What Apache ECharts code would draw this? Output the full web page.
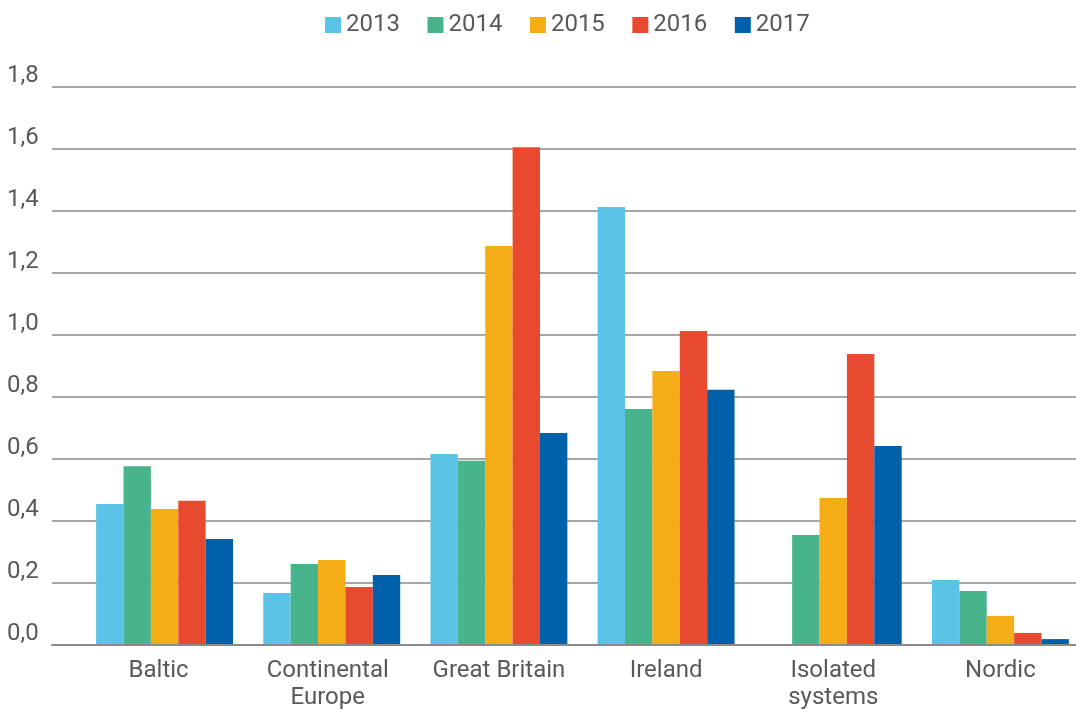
<!DOCTYPE html>
<html>
<head>
<meta charset="utf-8">
<title>Values by synchronous area, 2013–2017</title>
<script src="https://cdn.jsdelivr.net/npm/echarts@6/dist/echarts.min.js"></script>
<style>
  html, body { margin: 0; padding: 0; background: #ffffff; }
  #chart { width: 1076px; height: 709px; }
</style>
</head>
<body>
<div id="chart"></div>
<script>
// Synchronous areas on the category axis
const categories = ['Baltic', 'Continental\nEurope', 'Great Britain', 'Ireland', 'Isolated\nsystems', 'Nordic'];

// Yearly values per area (same order as categories)
const years = ['2013', '2014', '2015', '2016', '2017'];
const values2013 = [0.455, 0.168, 0.616, 1.413, null, 0.210];
const values2014 = [0.577, 0.261, 0.594, 0.761, 0.355, 0.174];
const values2015 = [0.439, 0.274, 1.287, 0.884, 0.474, 0.094];
const values2016 = [0.465, 0.187, 1.606, 1.013, 0.939, 0.039];
const values2017 = [0.342, 0.226, 0.684, 0.823, 0.642, 0.019];

// Value axis range
const yMin = 0;
const yMax = 1.8;
const yStep = 0.2;

const colors = ['#5bc3e5', '#47b48c', '#f4ac17', '#e84a30', '#0060aa'];
const seriesValues = [values2013, values2014, values2015, values2016, values2017];

const textColor = '#595959';
const lineColor = '#8a8a8a';
const font = 'Roboto, "Noto Sans", sans-serif';

// The first two area names sit a little left of their bar groups
const labelNudge = { 'Baltic': 12, 'Continental\nEurope': 8 };
const categoryData = categories.map(name => labelNudge[name]
  ? { value: name, textStyle: { padding: [0, labelNudge[name], 0, 0] } }
  : name);

const chart = echarts.init(document.getElementById('chart'), null, { renderer: 'canvas' });

chart.setOption({
  animation: false,
  backgroundColor: '#ffffff',
  color: colors,
  legend: {
    left: 325,
    top: 13,
    padding: 0,
    itemWidth: 16,
    itemHeight: 16,
    itemGap: 27.5,
    icon: 'rect',
    textStyle: { color: textColor, fontSize: 24, fontFamily: font },
    data: years
  },
  grid: [
    // frame for gridlines, value labels and the zero line
    { left: 52, right: 0, top: 87, bottom: 64, containLabel: false, outerBoundsMode: 'none' },
    // bars (the last band runs slightly past the right edge)
    { left: 81, width: 1003, top: 87, bottom: 64, containLabel: false, outerBoundsMode: 'none' }
  ],
  xAxis: [
    {
      gridIndex: 0,
      type: 'category',
      data: [''],
      z: 10,
      axisLine: { show: true, onZero: true, lineStyle: { color: lineColor, width: 2 } },
      axisTick: { show: false },
      axisLabel: { show: false },
      splitLine: { show: false }
    },
    {
      gridIndex: 1,
      type: 'category',
      data: categoryData,
      axisLine: { show: false },
      axisTick: { show: false },
      axisLabel: {
        interval: 0,
        color: textColor,
        fontSize: 24,
        lineHeight: 27,
        fontFamily: font,
        margin: 12
      }
    }
  ],
  yAxis: [
    {
      gridIndex: 0,
      type: 'value',
      min: yMin,
      max: yMax,
      interval: yStep,
      axisLine: { show: false },
      axisTick: { show: false },
      splitLine: { show: true, lineStyle: { color: lineColor, width: 1.5 } },
      axisLabel: {
        color: textColor,
        fontSize: 24,
        lineHeight: 22,
        fontFamily: font,
        align: 'left',
        verticalAlign: 'bottom',
        margin: 45,
        formatter: v => v.toFixed(1).replace('.', ',')
      }
    },
    {
      gridIndex: 1,
      type: 'value',
      min: yMin,
      max: yMax,
      interval: yStep,
      show: false,
      splitLine: { show: false }
    }
  ],
  series: seriesValues.map((vals, i) => ({
    name: years[i],
    type: 'bar',
    xAxisIndex: 1,
    yAxisIndex: 1,
    data: vals,
    barGap: '0%',
    barCategoryGap: '18.1%',
    itemStyle: { color: colors[i] }
  }))
});
</script>
</body>
</html>
